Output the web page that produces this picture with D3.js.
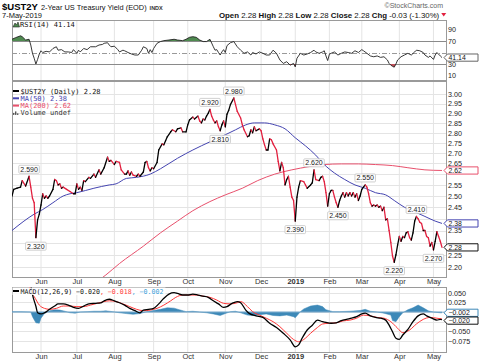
<!DOCTYPE html>
<html>
<head>
<meta charset="utf-8">
<script src="https://cdn.jsdelivr.net/npm/d3@7"></script>
<style>
body { margin: 0; background: #fff; }
svg text { font-family: "Liberation Sans", Arial, sans-serif; }
.mono { font-family: "DejaVu Sans Mono", monospace; }
</style>
</head>
<body>
<svg id="chart" width="480" height="363"></svg>
<script>
// ---- data (trading day index, value) ----
const monthLabels = ["Jun", "Jul", "Aug", "Sep", "Oct", "Nov", "Dec", "2019", "Feb", "Mar", "Apr", "May"];
const monthDays = [17, 38, 60, 83, 103, 125, 146, 166, 186, 205, 227, 247];

const closes = [[0,2.50],[1,2.53],[3,2.535],[5,2.54],[6,2.57],[8,2.545],[10,2.59],[11,2.54],[12,2.49],[13,2.47],
  [14,2.32],[15,2.395],[16,2.42],[17,2.46],[18,2.51],[19,2.49],[20,2.50],[21,2.49],[22,2.50],[24,2.53],
  [25,2.575],[26,2.57],[27,2.55],[28,2.555],[29,2.535],[30,2.54],[32,2.53],[34,2.52],[36,2.51],[37,2.51],
  [38,2.555],[39,2.53],[40,2.54],[41,2.525],[42,2.57],[43,2.565],[45,2.585],[46,2.58],[48,2.60],[49,2.585],
  [51,2.62],[52,2.60],[54,2.63],[56,2.68],[57,2.66],[58,2.665],[60,2.645],[61,2.66],[63,2.655],[64,2.62],
  [66,2.60],[67,2.60],[68,2.615],[69,2.595],[70,2.61],[71,2.595],[73,2.59],[74,2.60],[75,2.59],[77,2.61],
  [78,2.655],[79,2.66],[80,2.63],[81,2.615],[82,2.63],[83,2.625],[85,2.655],[86,2.715],[88,2.745],[89,2.74],
  [90,2.76],[91,2.78],[93,2.805],[94,2.815],[96,2.805],[97,2.82],[99,2.825],[100,2.805],[102,2.805],[103,2.84],
  [104,2.865],[106,2.88],[107,2.87],[109,2.885],[110,2.86],[111,2.85],[112,2.87],[113,2.865],[114,2.885],[115,2.90],
  [116,2.92],[117,2.885],[118,2.865],[119,2.85],[120,2.86],[121,2.83],[122,2.81],[123,2.84],[124,2.86],[125,2.83],
  [126,2.895],[127,2.915],[128,2.945],[130,2.98],[131,2.945],[132,2.91],[134,2.875],[135,2.84],[136,2.815],[138,2.78],
  [139,2.785],[140,2.815],[141,2.80],[142,2.83],[143,2.81],[145,2.82],[146,2.81],[147,2.77],[148,2.74],[149,2.715],
  [150,2.715],[151,2.77],[152,2.765],[153,2.745],[155,2.715],[156,2.66],[157,2.615],[158,2.655],[159,2.63],[160,2.55],
  [161,2.575],[162,2.59],[163,2.54],[164,2.495],[165,2.48],[166,2.39],[167,2.495],[168,2.54],[169,2.57],[171,2.565],
  [172,2.55],[173,2.535],[175,2.55],[176,2.56],[177,2.62],[178,2.575],[180,2.57],[181,2.585],[182,2.59],[183,2.565],
  [184,2.515],[185,2.455],[186,2.51],[187,2.525],[188,2.525],[189,2.495],[190,2.47],[191,2.45],[192,2.48],[193,2.50],
  [194,2.515],[195,2.495],[196,2.515],[197,2.50],[198,2.515],[199,2.50],[200,2.515],[201,2.495],[202,2.51],[203,2.48],
  [204,2.50],[205,2.53],[206,2.54],[207,2.55],[208,2.54],[209,2.51],[210,2.47],[211,2.455],[212,2.46],[213,2.455],
  [214,2.46],[215,2.45],[216,2.455],[217,2.435],[218,2.45],[219,2.395],[220,2.40],[221,2.35],[222,2.30],[223,2.245],
  [224,2.22],[225,2.25],[226,2.29],[227,2.325],[228,2.305],[229,2.325],[230,2.32],[231,2.34],[232,2.345],[233,2.32],
  [234,2.31],[235,2.34],[236,2.39],[237,2.41],[238,2.40],[239,2.385],[240,2.38],[241,2.35],[242,2.35],[243,2.325],
  [244,2.32],[245,2.285],[246,2.30],[247,2.27],[248,2.305],[249,2.345],[250,2.325],[251,2.305],[252,2.28]];

const ma50 = [[0,2.35],[7,2.39],[13,2.42],[18,2.44],[24,2.47],[30,2.50],[34,2.51],[38,2.515],[48,2.535],[57,2.55],
  [61,2.555],[67,2.58],[73,2.585],[81,2.60],[87,2.625],[97,2.675],[106,2.715],[116,2.755],[125,2.79],[131,2.815],
  [137,2.84],[142,2.85],[148,2.85],[154,2.84],[160,2.82],[166,2.775],[172,2.735],[178,2.69],[183,2.645],[189,2.605],
  [195,2.575],[201,2.55],[207,2.535],[213,2.515],[219,2.505],[224,2.48],[230,2.45],[236,2.43],[242,2.41],[248,2.39],[252,2.38]];

const ma200 = [[52,2.155],[55,2.17],[63,2.215],[77,2.285],[87,2.34],[97,2.39],[106,2.435],[116,2.475],[125,2.505],
  [135,2.535],[144,2.57],[154,2.60],[164,2.62],[174,2.635],[183,2.645],[193,2.648],[203,2.648],[213,2.645],
  [223,2.64],[232,2.63],[242,2.62],[252,2.617]];

const rsi = [[0,73],[2,75.7],[5,79],[6,77.5],[8,71.7],[10,73],[11,63],[12,48.6],[13,40],[14,30],[15,38],[16,47.4],
  [17,53],[18,50],[20,52],[22,51],[24,57],[26,60],[27,54],[29,55],[31,51],[33,51],[35,50],[36,55],[38,48.6],[39,54],
  [40,51],[42,57],[44,55],[46,60],[49,60],[51,63],[53,64],[54,66],[56,67],[57,63],[58,60],[60,61],[62,55],[63,51],
  [65,54],[66,53],[68,50],[70,47.4],[72,45.6],[74,45.6],[76,54],[77,60],[79,57],[80,48.6],[81,55],[82,50],[83,57],
  [85,66],[87,69],[89,70.6],[92,71.7],[95,73],[97,71.7],[100,70.6],[102,73],[104,76.4],[106,77.5],[108,76.4],
  [110,71.7],[112,69],[114,69],[116,73],[118,60],[119,54],[120,55],[121,50],[122,45.6],[123,51],[124,55],[125,50],
  [126,62],[128,67],[130,69],[132,60],[134,54],[136,48.6],[138,51],[140,45.6],[141,50],[143,47.4],[145,51],[147,48.6],
  [149,45.6],[151,45.6],[153,54],[155,48.6],[157,37],[159,31],[161,34],[163,28],[165,31],[166,25],[167,40],[169,48.6],
  [171,45.6],[173,47.4],[175,50],[177,54],[178,51],[180,48.6],[182,51],[183,53],[184,44],[185,36],[186,47],[187,48.6],
  [189,51],[191,45.6],[193,48.6],[195,51],[197,50],[199,48.6],[201,53],[203,50],[205,55],[206,53],[208,48.6],[210,44],
  [212,42.6],[214,44],[216,41.5],[218,42.6],[220,37],[221,31],[222,28],[223,26],[224,24.5],[225,30],[226,37],
  [228,42.6],[230,45.6],[232,48.6],[234,45.6],[236,51],[237,54],[239,53],[241,50],[242,45.6],[244,41.5],[245,44],
  [247,38],[248,45.6],[249,50],[251,44],[252,41.14]];

const macd = [[0,0.10],[8,0.085],[11,0.068],[12,0.045],[14,0.015],[15,-0.002],[17,-0.005],[19,-0.002],[22,0.007],
  [25,0.0155],[27,0.021],[30,0.021],[33,0.018],[36,0.012],[39,0.0095],[42,0.0155],[45,0.021],[49,0.0225],[52,0.0235],
  [54,0.029],[57,0.033],[60,0.029],[63,0.024],[66,0.018],[69,0.0095],[72,0.0035],[75,-0.002],[77,0.005],[80,0.007],
  [83,0.0095],[86,0.021],[89,0.0355],[92,0.0465],[95,0.050],[97,0.048],[100,0.044],[103,0.044],[106,0.0465],
  [109,0.044],[112,0.041],[115,0.038],[118,0.029],[121,0.021],[124,0.012],[126,0.014],[129,0.0225],[132,0.027],
  [134,0.024],[137,0.005],[139,-0.0035],[143,-0.010],[147,-0.014],[151,-0.029],[155,-0.040],[159,-0.055],[163,-0.072],
  [166,-0.090],[168,-0.085],[170,-0.068],[173,-0.0465],[176,-0.034],[179,-0.021],[182,-0.025],[184,-0.027],[187,-0.029],
  [190,-0.028],[193,-0.0225],[196,-0.019],[199,-0.016],[202,-0.012],[205,-0.005],[207,-0.003],[210,-0.010],[213,-0.014],
  [216,-0.016],[219,-0.021],[221,-0.034],[223,-0.051],[225,-0.068],[227,-0.071],[229,-0.0595],[232,-0.045],[235,-0.025],
  [238,-0.010],[241,-0.005],[243,-0.010],[246,-0.016],[249,-0.021],[251,-0.019],[252,-0.020]];

const signal = [[0,0.095],[10,0.07],[11,0.0525],[13,0.040],[16,0.018],[19,0.0095],[22,0.007],[26,0.0095],[30,0.0155],
  [34,0.0155],[38,0.014],[42,0.014],[46,0.018],[50,0.0225],[54,0.027],[57,0.029],[61,0.027],[65,0.021],[69,0.014],
  [73,0.007],[77,0.0035],[81,0.005],[85,0.0095],[89,0.018],[93,0.029],[96,0.038],[100,0.044],[104,0.044],[108,0.044],
  [112,0.041],[116,0.038],[120,0.031],[124,0.0225],[128,0.021],[132,0.024],[134,0.027],[138,0.014],[141,0.001],
  [145,-0.008],[149,-0.016],[153,-0.025],[157,-0.038],[161,-0.055],[165,-0.071],[168,-0.077],[171,-0.071],[175,-0.055],
  [179,-0.040],[182,-0.031],[186,-0.029],[190,-0.028],[194,-0.023],[198,-0.021],[202,-0.016],[206,-0.008],[210,-0.010],
  [214,-0.014],[218,-0.016],[222,-0.025],[226,-0.042],[229,-0.0535],[233,-0.0465],[237,-0.031],[241,-0.019],
  [245,-0.014],[249,-0.016],[252,-0.018]];

const hist = [[0,0.001],[5,0.001],[11,0],[12,-0.012],[14,-0.028],[16,-0.029],[17,-0.016],[19,-0.004],[22,0.003],
  [25,0.006],[28,0.005],[31,0.002],[34,-0.002],[37,-0.003],[40,0],[44,0.001],[48,0.002],[52,0.002],[55,0.003],
  [59,0.001],[63,-0.002],[67,-0.004],[71,-0.006],[75,-0.004],[79,0.001],[83,0.004],[87,0.007],[91,0.011],[95,0.010],
  [98,0.006],[102,0.001],[106,0.002],[110,0],[114,-0.002],[118,-0.005],[122,-0.009],[125,-0.004],[128,0.001],
  [131,0.002],[134,-0.002],[138,-0.008],[141,-0.009],[145,-0.007],[149,-0.005],[153,-0.009],[157,-0.010],[161,-0.008],
  [165,-0.012],[166,-0.015],[169,0.001],[171,0.008],[175,0.0155],[179,0.018],[182,0.014],[184,0.006],[188,0.001],
  [192,0.001],[198,0.002],[204,0.004],[207,0.007],[210,0.002],[214,0],[218,-0.003],[222,-0.008],[223,-0.022],
  [225,-0.025],[227,-0.012],[229,-0.002],[232,0.006],[235,0.011],[238,0.018],[241,0.011],[244,0.003],[247,0],
  [251,-0.002],[252,-0.002]];

// labelled highs and lows on the price line
const noteDays = [10, 14, 116, 122, 130, 166, 177, 191, 207, 224, 237, 247];
const noteVals = [2.59, 2.32, 2.92, 2.81, 2.98, 2.39, 2.62, 2.45, 2.55, 2.22, 2.41, 2.27];
const noteUp = [true, false, true, false, true, false, true, false, true, false, true, false];

const priceTicks = [3.00, 2.95, 2.90, 2.85, 2.80, 2.75, 2.70, 2.65, 2.60, 2.55, 2.50, 2.45, 2.40, 2.35, 2.30, 2.25, 2.20];
const rsiTicks = [90, 70, 50, 30, 10];
const macdTicks = [0.05, 0.025, 0, -0.025, -0.05, -0.075];

// ---- layout ----
const L = 12, R = 446;
const rsiTop = 20, rsiBot = 80, mainTop = 81, mainBot = 277, macdTop = 287, macdBot = 352;
const red = "#e2203f", blue = "#4444b0", pink = "#e8506c", grid = "#e4e4e4";
const boxH = 3.6;

const svg = d3.select("#chart");
const defs = svg.append("defs");

const x = d3.scaleLinear().domain([0, 252]).range([L, 442]);
const yR = d3.scaleLinear().domain([70, 30]).range([41, 64]);
const yP = d3.scaleLog().domain([3.0, 2.2]).range([94.3, 267.3]);
const yM = d3.scaleLinear().domain([0.05, -0.075]).range([292.7, 341]);

function clip(id, y0, y1) {
  defs.append("clipPath").attr("id", id).append("rect")
    .attr("x", L).attr("y", y0).attr("width", R - L).attr("height", y1 - y0);
}
clip("cR", rsiTop, rsiBot);
clip("cP", mainTop, mainBot);
clip("cM", macdTop, macdBot);
clip("cRhi", rsiTop, yR(70));
clip("cRlo", yR(30), rsiBot);

function panel(y0, y1, yScale, ticks) {
  const g = svg.append("g");
  g.selectAll(".v").data(monthDays).enter().append("line")
    .attr("x1", d => x(d)).attr("x2", d => x(d)).attr("y1", y0).attr("y2", y1)
    .attr("stroke", grid).attr("stroke-width", 1);
  g.selectAll(".h").data(ticks).enter().append("line")
    .attr("x1", L).attr("x2", R).attr("y1", d => Math.round(yScale(d)) + 0.5).attr("y2", d => Math.round(yScale(d)) + 0.5)
    .attr("stroke", grid).attr("stroke-width", 1);
  g.append("rect").attr("x", L + 0.5).attr("y", y0 + 0.5).attr("width", R - L).attr("height", y1 - y0)
    .attr("fill", "none").attr("stroke", "#9a9a9a");
  return g;
}

// tick labels sitting under a value box are left out, as in the source chart
function rightAxis(yScale, ticks, fmt, boxYs) {
  const shown = ticks.filter(t => boxYs.every(b => Math.abs(yScale(t) - b) > 6.2));
  const ax = d3.axisRight(yScale).tickValues(shown).tickFormat(fmt).tickSize(0).tickPadding(2);
  const g = svg.append("g").attr("transform", `translate(${R},0)`).call(ax);
  g.select(".domain").remove();
  g.selectAll("text").attr("font-size", "7.2px").attr("fill", "#222")
    .attr("font-family", "Liberation Sans, Arial, sans-serif");
}

function valueBox(yv, label, color) {
  const x0 = 444, x1 = 478;
  svg.append("path")
    .attr("d", `M${x0},${yv} L${x0 + 3.5},${yv - boxH} L${x1},${yv - boxH} L${x1},${yv + boxH} L${x0 + 3.5},${yv + boxH} Z`)
    .attr("fill", "#fff").attr("stroke", color).attr("stroke-width", 1);
  svg.append("text").attr("x", 448.5).attr("y", yv + 2.4).attr("font-size", "6.9px").attr("fill", "#111").text(label);
}

// ---- header ----
const t1 = svg.append("text").attr("x", 2).attr("y", 10).attr("font-size", "9.5px").attr("font-weight", "bold").text("$UST2Y");
const w1 = t1.node().getComputedTextLength();
const t2 = svg.append("text").attr("x", 2 + w1 + 3).attr("y", 10).attr("font-size", "7.4px").attr("fill", "#111")
  .text("2-Year US Treasury Yield (EOD)");
const w2 = t2.node().getComputedTextLength();
svg.append("text").attr("x", 2 + w1 + 3 + w2 + 3).attr("y", 10).attr("font-size", "5.5px").attr("fill", "#333")
  .attr("font-weight", "bold").text("INDX");
svg.append("text").attr("x", 2).attr("y", 17.5).attr("font-size", "7.5px").attr("fill", "#111").text("7-May-2019");
svg.append("text").attr("x", 443).attr("y", 7.5).attr("text-anchor", "end").attr("font-size", "7px").attr("fill", "#666")
  .text("\u00a9StockCharts.com");

const last = closes[closes.length - 1][1];
const f2 = d3.format(".2f");
const quote = svg.append("text").attr("x", 219).attr("y", 17.5).attr("font-size", "7.7px").attr("fill", "#111");
[["Open", true], [" " + f2(last) + " ", false], ["High", true], [" " + f2(last) + " ", false],
 ["Low", true], [" " + f2(last) + " ", false], ["Close", true], [" " + f2(last) + " ", false],
 ["Chg", true], [" -0.03 (-1.30%)", false]].forEach(p => {
  quote.append("tspan").attr("font-weight", p[1] ? "bold" : "normal").text(p[0]);
});
// fit the quote line into the space the source uses
const qFit = 7.7 * 220 / quote.node().getComputedTextLength();
quote.attr("font-size", qFit + "px");
const qw = quote.node().getComputedTextLength();
svg.append("path").attr("d", `M${219 + qw + 2},13 l5,0 l-2.5,3.5 Z`).attr("fill", red);

// ---- RSI panel ----
panel(rsiTop, rsiBot, yR, []);
svg.append("line").attr("x1", L).attr("x2", R).attr("y1", Math.round(yR(70)) + 0.5).attr("y2", Math.round(yR(70)) + 0.5)
  .attr("stroke", "#8a8a8a");
svg.append("line").attr("x1", L).attr("x2", R).attr("y1", Math.round(yR(30)) + 0.5).attr("y2", Math.round(yR(30)) + 0.5)
  .attr("stroke", "#8a8a8a");
svg.append("line").attr("x1", L).attr("x2", R).attr("y1", Math.round(yR(50)) + 0.5).attr("y2", Math.round(yR(50)) + 0.5)
  .attr("stroke", "#999").attr("stroke-dasharray", "5,2,1,2");

svg.append("path").datum(rsi).attr("clip-path", "url(#cRhi)")
  .attr("d", d3.area().x(d => x(d[0])).y0(yR(70)).y1(d => yR(d[1])))
  .attr("fill", "#4f8a50");
svg.append("path").datum(rsi).attr("clip-path", "url(#cRlo)")
  .attr("d", d3.area().x(d => x(d[0])).y0(yR(30)).y1(d => yR(d[1])))
  .attr("fill", "#c0505a");
svg.append("path").datum(rsi).attr("clip-path", "url(#cR)")
  .attr("d", d3.line().x(d => x(d[0])).y(d => yR(d[1])))
  .attr("fill", "none").attr("stroke", "#222").attr("stroke-width", 0.9);

const lastRsi = rsi[rsi.length - 1][1];
rightAxis(yR, rsiTicks, d3.format("d"), [yR(lastRsi)]);
svg.append("path").attr("d", "M13,27 l2,-4 l1.5,2 l1.5,-3 l1.5,5 Z").attr("fill", "#4f8a50").attr("stroke", "#222").attr("stroke-width", 0.6);
svg.append("text").attr("class", "mono").attr("x", 20).attr("y", 27).attr("font-size", "7px").attr("fill", "#111")
  .text("RSI(14) " + d3.format(".2f")(lastRsi));
valueBox(yR(lastRsi), d3.format(".2f")(lastRsi), "#666");

// ---- price panel ----
panel(mainTop, mainBot, yP, priceTicks);

const mainG = svg.append("g").attr("clip-path", "url(#cP)");
const maLine = d3.line().x(d => x(d[0])).y(d => yP(d[1])).curve(d3.curveMonotoneX);
mainG.append("path").datum(ma200).attr("d", maLine).attr("fill", "none").attr("stroke", pink).attr("stroke-width", 1);
mainG.append("path").datum(ma50).attr("d", maLine).attr("fill", "none").attr("stroke", blue).attr("stroke-width", 1);

const segs = d3.pairs(closes);
mainG.selectAll(".seg").data(segs).enter().append("line")
  .attr("x1", d => x(d[0][0])).attr("y1", d => yP(d[0][1]))
  .attr("x2", d => x(d[1][0])).attr("y2", d => yP(d[1][1]))
  .attr("stroke", d => d[1][1] < d[0][1] ? red : "#000")
  .attr("stroke-width", 1.3).attr("stroke-linecap", "round");

// high/low notes
const f3 = d3.format(".3f");
noteDays.forEach((d, i) => {
  const cx = x(d), cy = yP(noteVals[i]) + (noteUp[i] ? -7 : 8.5);
  const g = svg.append("g");
  const t = g.append("text").attr("x", cx).attr("y", cy + 2.5).attr("text-anchor", "middle")
    .attr("font-size", "7px").attr("fill", "#222").text(f3(noteVals[i]));
  const w = t.node().getComputedTextLength();
  g.insert("rect", "text").attr("x", cx - w / 2 - 1.5).attr("y", cy - 4).attr("width", w + 3).attr("height", 8)
    .attr("rx", 1).attr("fill", "#fff").attr("fill-opacity", 0.9).attr("stroke", "#c4c4c4").attr("stroke-width", 0.8);
});

const last50 = ma50[ma50.length - 1][1], last200 = ma200[ma200.length - 1][1];
rightAxis(yP, priceTicks, d3.format(".2f"), [yP(last200), yP(last50), yP(last)]);
valueBox(yP(last200), f2(last200), pink);
valueBox(yP(last50), f2(last50), blue);
valueBox(yP(last), f2(last), "#111");

// legend
const leg = [
  ["$UST2Y (Daily) " + f2(last), "#000", "#111"],
  ["MA(50) " + f2(last50), blue, blue],
  ["MA(200) " + f2(last200), pink, pink]
];
leg.forEach((l, i) => {
  const yy = 91 + i * 7.3;
  svg.append("line").attr("x1", 13).attr("x2", 19).attr("y1", yy).attr("y2", yy).attr("stroke", l[1]).attr("stroke-width", 2);
  svg.append("text").attr("class", "mono").attr("x", 20.5).attr("y", yy + 2.5).attr("font-size", "7px").attr("fill", l[2]).text(l[0]);
});
const vy = 91 + 3 * 7.3;
[[13, 2], [15, 3.5], [17, 1.5]].forEach(b => {
  svg.append("rect").attr("x", b[0]).attr("y", vy + 2 - b[1]).attr("width", 1.4).attr("height", b[1]).attr("fill", "#555");
});
svg.append("text").attr("class", "mono").attr("x", 20.5).attr("y", vy + 2.5).attr("font-size", "7px").attr("fill", "#333").text("Volume undef");

// month axis under a panel
function monthAxis(y) {
  const ax = d3.axisBottom(x).tickValues(monthDays).tickFormat((d, i) => monthLabels[i]).tickSize(0).tickPadding(2);
  const g = svg.append("g").attr("transform", `translate(0,${y})`).call(ax);
  g.select(".domain").remove();
  g.selectAll("text").attr("font-size", "7.5px").attr("fill", "#333")
    .attr("font-family", "Liberation Sans, Arial, sans-serif")
    .attr("font-weight", (d, i) => monthLabels[i] === "2019" ? "bold" : "normal");
}
monthAxis(mainBot);

// ---- MACD panel ----
panel(macdTop, macdBot, yM, macdTicks);
const macdG = svg.append("g").attr("clip-path", "url(#cM)");
macdG.append("path").datum(hist)
  .attr("d", d3.area().x(d => x(d[0])).y0(yM(0)).y1(d => yM(d[1])))
  .attr("fill", "#3d89b8").attr("stroke", "#3d89b8").attr("stroke-width", 0.5);
macdG.append("line").attr("x1", L).attr("x2", R).attr("y1", yM(0)).attr("y2", yM(0)).attr("stroke", "#8fb8d4").attr("stroke-width", 0.8);
const mLine = d3.line().x(d => x(d[0])).y(d => yM(d[1])).curve(d3.curveMonotoneX);
macdG.append("path").datum(signal).attr("d", mLine).attr("fill", "none").attr("stroke", "#ff3838").attr("stroke-width", 1);
macdG.append("path").datum(macd).attr("d", mLine).attr("fill", "none").attr("stroke", "#000").attr("stroke-width", 1.3);

const fm = d3.format(".3f");
const lastH = hist[hist.length - 1][1], lastM = macd[macd.length - 1][1], lastS = signal[signal.length - 1][1];
rightAxis(yM, macdTicks, fm, [yM(lastH), yM(lastM)]);
// the two MACD tags sit just far enough apart not to cover each other
const tagGap = boxH * 2 + 0.6;
const yTagH = yM(lastH), yTagM = Math.max(yM(lastM), yTagH + tagGap);
valueBox(yTagH, fm(lastH), "#3d89b8");
valueBox(yTagM, fm(lastM), "#111");

const mt = svg.append("text").attr("class", "mono").attr("x", 20.5).attr("y", 293.5).attr("font-size", "6.6px");
mt.append("tspan").attr("fill", "#111").text("MACD(12,26,9) " + fm(lastM));
mt.append("tspan").attr("fill", "#ff3838").text(", " + fm(lastS));
mt.append("tspan").attr("fill", "#3aa0d8").text(", " + fm(lastH));
const mw = mt.node().getComputedTextLength();
svg.insert("rect", () => mt.node()).attr("x", 12.5).attr("y", 287.5).attr("width", mw + 10).attr("height", 7.5)
  .attr("fill", "#fff").attr("fill-opacity", 0.85);
svg.append("line").attr("x1", 13).attr("x2", 19).attr("y1", 291).attr("y2", 291).attr("stroke", "#000").attr("stroke-width", 2);

monthAxis(macdBot);
</script>
</body>
</html>
